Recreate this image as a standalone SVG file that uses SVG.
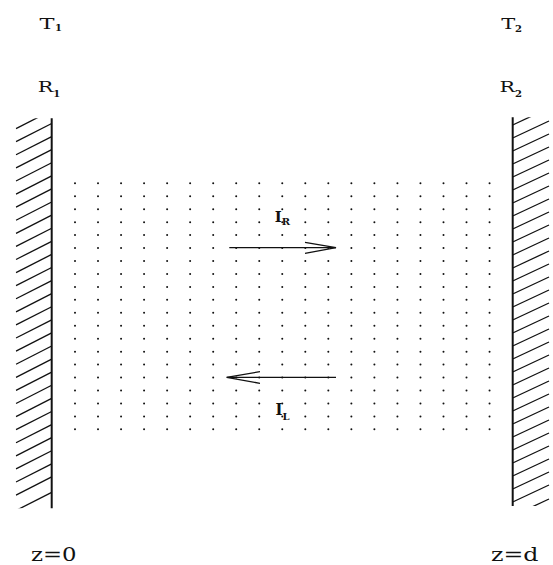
<svg xmlns="http://www.w3.org/2000/svg" xmlns:xlink="http://www.w3.org/1999/xlink" width="553" height="565" viewBox="0 0 553 565">
<style>
.lbl{font-family:"DejaVu Serif","Liberation Serif",serif;fill:#111;}
.sub{font-family:"DejaVu Serif","Liberation Serif",serif;font-weight:bold;fill:#111;font-size:10px;}
.wall{stroke:#111;stroke-width:2;fill:none;}
.hatch{stroke:#111;stroke-width:1.3;}
.arr{stroke:#111;stroke-width:1.3;fill:none;stroke-linejoin:miter;}
.dot{fill:#111;}
</style>
<defs>
<clipPath id="clipL"><rect x="15.5" y="118.3" width="37" height="390"/></clipPath>
<clipPath id="clipR"><rect x="512" y="117.3" width="38" height="388.7"/></clipPath>
<line id="hl" class="hatch" x1="16" y1="0" x2="51.7" y2="-18.2"/>
<line id="hr" class="hatch" x1="512.7" y1="0" x2="549" y2="-17"/>
<g id="dotrow">
<circle class="dot" cx="75" cy="0" r="1"/><circle class="dot" cx="98.03" cy="0" r="1"/><circle class="dot" cx="121.06" cy="0" r="1"/><circle class="dot" cx="144.09" cy="0" r="1"/><circle class="dot" cx="167.12" cy="0" r="1"/><circle class="dot" cx="190.15" cy="0" r="1"/><circle class="dot" cx="213.18" cy="0" r="1"/><circle class="dot" cx="236.21" cy="0" r="1"/><circle class="dot" cx="259.24" cy="0" r="1"/><circle class="dot" cx="282.27" cy="0" r="1"/><circle class="dot" cx="305.3" cy="0" r="1"/><circle class="dot" cx="328.33" cy="0" r="1"/><circle class="dot" cx="351.36" cy="0" r="1"/><circle class="dot" cx="374.39" cy="0" r="1"/><circle class="dot" cx="397.42" cy="0" r="1"/><circle class="dot" cx="420.45" cy="0" r="1"/><circle class="dot" cx="443.48" cy="0" r="1"/><circle class="dot" cx="466.51" cy="0" r="1"/><circle class="dot" cx="489.54" cy="0" r="1"/>
</g>
</defs>
<rect width="553" height="565" fill="#fff"/>

<g id="medium">
<use xlink:href="#dotrow" y="183.3"/><use xlink:href="#dotrow" y="196.25"/><use xlink:href="#dotrow" y="209.2"/><use xlink:href="#dotrow" y="222.15"/><use xlink:href="#dotrow" y="235.1"/><use xlink:href="#dotrow" y="248.05"/><use xlink:href="#dotrow" y="261"/><use xlink:href="#dotrow" y="273.95"/><use xlink:href="#dotrow" y="286.9"/><use xlink:href="#dotrow" y="299.85"/><use xlink:href="#dotrow" y="312.8"/><use xlink:href="#dotrow" y="325.75"/><use xlink:href="#dotrow" y="338.7"/><use xlink:href="#dotrow" y="351.65"/><use xlink:href="#dotrow" y="364.6"/><use xlink:href="#dotrow" y="377.55"/><use xlink:href="#dotrow" y="390.5"/><use xlink:href="#dotrow" y="403.45"/><use xlink:href="#dotrow" y="416.4"/><use xlink:href="#dotrow" y="429.35"/>
</g>

<g id="mirror-left">
<g clip-path="url(#clipL)">
<use xlink:href="#hl" y="128.6"/><use xlink:href="#hl" y="141.69"/><use xlink:href="#hl" y="154.78"/><use xlink:href="#hl" y="167.87"/><use xlink:href="#hl" y="180.96"/><use xlink:href="#hl" y="194.05"/><use xlink:href="#hl" y="207.14"/><use xlink:href="#hl" y="220.23"/><use xlink:href="#hl" y="233.32"/><use xlink:href="#hl" y="246.41"/><use xlink:href="#hl" y="259.5"/><use xlink:href="#hl" y="272.59"/><use xlink:href="#hl" y="285.68"/><use xlink:href="#hl" y="298.77"/><use xlink:href="#hl" y="311.86"/><use xlink:href="#hl" y="324.95"/><use xlink:href="#hl" y="338.04"/><use xlink:href="#hl" y="351.13"/><use xlink:href="#hl" y="364.22"/><use xlink:href="#hl" y="377.31"/><use xlink:href="#hl" y="390.4"/><use xlink:href="#hl" y="403.49"/><use xlink:href="#hl" y="416.58"/><use xlink:href="#hl" y="429.67"/><use xlink:href="#hl" y="442.76"/><use xlink:href="#hl" y="455.85"/><use xlink:href="#hl" y="468.94"/><use xlink:href="#hl" y="482.03"/><use xlink:href="#hl" y="495.12"/><use xlink:href="#hl" y="510.5"/>
</g>
<line class="wall" x1="51.7" y1="118.3" x2="51.7" y2="508.3"/>
</g>

<g id="mirror-right">
<g clip-path="url(#clipR)">
<use xlink:href="#hr" y="125"/><use xlink:href="#hr" y="138"/><use xlink:href="#hr" y="151"/><use xlink:href="#hr" y="164"/><use xlink:href="#hr" y="177"/><use xlink:href="#hr" y="190"/><use xlink:href="#hr" y="203"/><use xlink:href="#hr" y="216"/><use xlink:href="#hr" y="229"/><use xlink:href="#hr" y="242"/><use xlink:href="#hr" y="255"/><use xlink:href="#hr" y="268"/><use xlink:href="#hr" y="281"/><use xlink:href="#hr" y="294"/><use xlink:href="#hr" y="307"/><use xlink:href="#hr" y="320"/><use xlink:href="#hr" y="333"/><use xlink:href="#hr" y="346"/><use xlink:href="#hr" y="359"/><use xlink:href="#hr" y="372"/><use xlink:href="#hr" y="385"/><use xlink:href="#hr" y="398"/><use xlink:href="#hr" y="411"/><use xlink:href="#hr" y="424"/><use xlink:href="#hr" y="437"/><use xlink:href="#hr" y="450"/><use xlink:href="#hr" y="463"/><use xlink:href="#hr" y="476"/><use xlink:href="#hr" y="489"/><use xlink:href="#hr" y="502"/><use xlink:href="#hr" y="516"/>
</g>
<line class="wall" x1="512.7" y1="117.3" x2="512.7" y2="506"/>
</g>

<g id="label-T1">
<text class="lbl" x="39.5" y="29.3" font-size="14.5" textLength="15" lengthAdjust="spacingAndGlyphs">T</text>
<text class="sub" x="55" y="31">1</text>
</g>
<g id="label-R1">
<text class="lbl" x="37.8" y="92" font-size="15.5" textLength="15.5" lengthAdjust="spacingAndGlyphs">R</text>
<text class="sub" x="53.3" y="96.5">1</text>
</g>
<g id="label-T2">
<text class="lbl" x="501.2" y="29.3" font-size="14.5" textLength="14" lengthAdjust="spacingAndGlyphs">T</text>
<text class="sub" x="515" y="31.5">2</text>
</g>
<g id="label-R2">
<text class="lbl" x="499.5" y="91.8" font-size="15.5" textLength="15.5" lengthAdjust="spacingAndGlyphs">R</text>
<text class="sub" x="515" y="96.5">2</text>
</g>
<g id="label-z0">
<text class="lbl" x="31" y="561" font-size="19" textLength="45.5" lengthAdjust="spacingAndGlyphs">z=0</text>
</g>
<g id="label-zd">
<text class="lbl" x="491" y="561" font-size="19" textLength="47.5" lengthAdjust="spacingAndGlyphs">z=d</text>
</g>

<g id="label-IR">
<text class="lbl" x="274.8" y="222" font-size="15" font-weight="bold" textLength="7" lengthAdjust="spacingAndGlyphs">I</text>
<text class="sub" x="281.8" y="225.3" font-size="10">R</text>
</g>
<g id="label-IL">
<text class="lbl" x="275.6" y="415" font-size="17" font-weight="bold" textLength="7" lengthAdjust="spacingAndGlyphs">I</text>
<text class="sub" x="282.5" y="420" font-size="11">L</text>
</g>

<g id="connectors">
<g id="arrow-IR">
<line class="arr" x1="229.3" y1="247.7" x2="336" y2="247.7"/>
<polyline class="arr" points="305,242.3 336,247.7 305,253.3"/>
</g>
<g id="arrow-IL">
<line class="arr" x1="336" y1="377.3" x2="226.7" y2="377.3"/>
<polyline class="arr" points="260,371.7 226.7,377.3 260,383.3"/>
</g>
</g>
</svg>
